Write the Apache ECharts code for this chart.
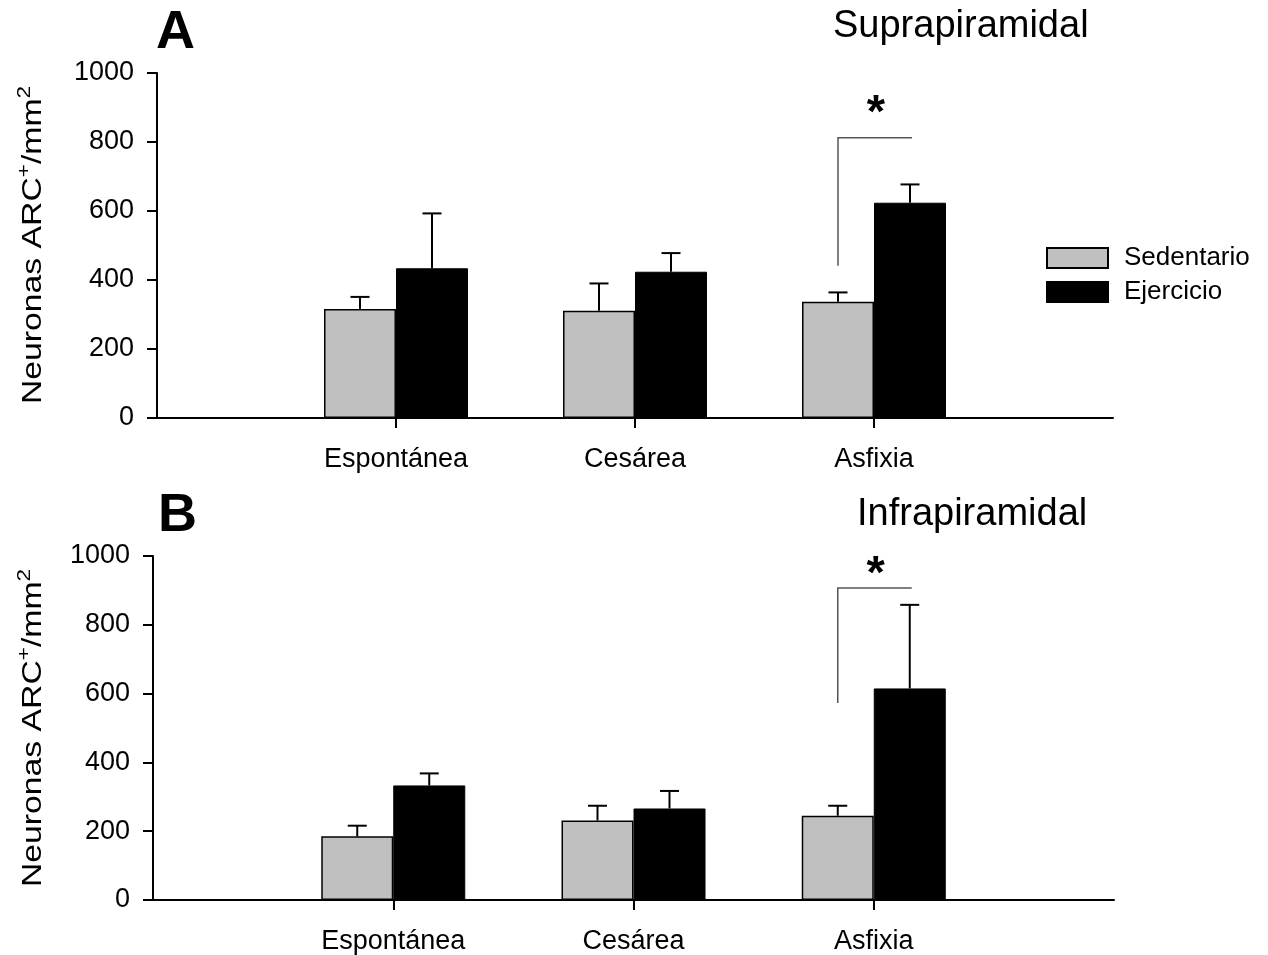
<!DOCTYPE html>
<html>
<head>
<meta charset="utf-8">
<script src="https://cdn.jsdelivr.net/npm/echarts@6/dist/echarts.min.js"></script>
<style>html,body{margin:0;padding:0;background:#fff;}#c{width:1268px;height:955px;}</style>
</head>
<body>
<div id="c"></div>
<script>
// ---- data ----
const categories = ['', 'Espontánea', 'Cesárea', 'Asfixia', ''];
const yTicks = [0, 200, 400, 600, 800, 1000];
const seriesNames = ['Sedentario', 'Ejercicio'];
// Panel A: Suprapiramidal
const supraSed = [null, 316, 311, 337, null];
const supraSedSem = [null, 35, 79, 27, null];
const supraEj = [null, 434, 424, 624, null];
const supraEjSem = [null, 159, 54, 53, null];
const supraBracket = [3, 441, 812, 881]; // category index, bottom, top, star
// Panel B: Infrapiramidal
const infraSed = [null, 185, 231, 245, null];
const infraSedSem = [null, 31, 43, 29, null];
const infraEj = [null, 333, 266, 615, null];
const infraEjSem = [null, 35, 51, 243, null];
const infraBracket = [3, 573, 907, 945];
const panelTitles = ['Suprapiramidal', 'Infrapiramidal'];
const panelLetters = ['A', 'B'];
const yName = '{a|Neuronas ARC}{s|+}{a|/mm}{s|2}';

const FONT = 'Liberation Sans, Arial, sans-serif';
const BAR_W = 72;

function errData(mean, sem) {
  const out = [];
  for (let i = 0; i < mean.length; i++) if (mean[i] != null) out.push([i, mean[i], sem[i]]);
  return out;
}
function errSeries(idx, mean, sem, offset) {
  return {
    type: 'custom', xAxisIndex: idx, yAxisIndex: idx, silent: true, z: 5,
    data: errData(mean, sem),
    renderItem: function (params, api) {
      const c = api.value(0);
      const x = api.coord([c, 0])[0] + offset;
      const yb = api.coord([c, api.value(1)])[1];
      const yt = api.coord([c, api.value(1) + api.value(2)])[1];
      const st = { stroke: '#000', lineWidth: 2 };
      return { type: 'group', children: [
        { type: 'line', shape: { x1: x, y1: yb, x2: x, y2: yt }, style: st },
        { type: 'line', shape: { x1: x - 9.5, y1: yt, x2: x + 9.5, y2: yt }, style: st }
      ]};
    }
  };
}
function bracketSeries(idx, b) {
  return {
    type: 'custom', xAxisIndex: idx, yAxisIndex: idx, silent: true, z: 6,
    data: [b],
    renderItem: function (params, api) {
      const c = api.value(0);
      const xc = api.coord([c, 0])[0];
      const x1 = xc - BAR_W / 2, x2 = xc + BAR_W / 2 + 2;
      const yb = api.coord([c, api.value(1)])[1];
      const yt = api.coord([c, api.value(2)])[1];
      const ys = api.coord([c, api.value(3)])[1];
      return { type: 'group', children: [
        { type: 'polyline', shape: { points: [[x1, yb], [x1, yt], [x2, yt]] }, style: { stroke: '#555', lineWidth: 1.5, fill: null } },
        { type: 'text', style: { x: (x1 + x2) / 2 + 1, y: ys, text: '*', font: 'bold 47px ' + FONT, fill: '#000', align: 'center', verticalAlign: 'middle' } }
      ]};
    }
  };
}
function xAxisCfg(idx) {
  return {
    gridIndex: idx, type: 'category', data: categories, boundaryGap: false,
    axisLine: { lineStyle: { color: '#000', width: 2 } },
    axisTick: { show: true, length: 10, interval: function (i, v) { return v !== ''; }, lineStyle: { color: '#000', width: 2 } },
    axisLabel: { interval: 0, color: '#000', fontSize: 27, fontFamily: FONT, margin: 28 },
    splitLine: { show: false }
  };
}
function yAxisCfg(idx) {
  return {
    gridIndex: idx, type: 'value', min: yTicks[0], max: yTicks[yTicks.length - 1], interval: yTicks[1] - yTicks[0],
    axisLine: { show: true, lineStyle: { color: '#000', width: 2 } },
    axisTick: { show: true, length: 10, lineStyle: { color: '#000', width: 2 } },
    axisLabel: { color: '#000', fontSize: 27, fontFamily: FONT, margin: 23, formatter: function (v) { return String(v); } },
    splitLine: { show: false }
  };
}
function yNameGraphic(cy) {
  return {
    type: 'text', x: 34, y: cy, rotation: Math.PI / 2, scaleX: 1.25, silent: true,
    style: {
      text: yName, align: 'center', verticalAlign: 'middle', fill: '#000',
      font: '27px ' + FONT,
      rich: { a: { fontSize: 27, fontFamily: FONT, fill: '#000', lineHeight: 36 },
              s: { fontSize: 18, fontFamily: FONT, fill: '#000', verticalAlign: 'top', lineHeight: 18 } }
    }
  };
}
function barSeries(idx, name, data, color, border) {
  return {
    type: 'bar', name: name, xAxisIndex: idx, yAxisIndex: idx, data: data,
    barWidth: BAR_W, barGap: '0%',
    itemStyle: { color: color, borderColor: '#000', borderWidth: border },
    emphasis: { disabled: true }
  };
}

const chart = echarts.init(document.getElementById('c'), null, { renderer: 'canvas' });
chart.setOption({
  animation: false,
  backgroundColor: '#fff',
  textStyle: { fontFamily: FONT },
  grid: [
    { left: 157, top: 73, width: 956, height: 345 },
    { left: 153, top: 556, width: 961, height: 345 }
  ],
  xAxis: [xAxisCfg(0), xAxisCfg(1)],
  yAxis: [yAxisCfg(0), yAxisCfg(1)],
  legend: {
    data: seriesNames, orient: 'vertical', left: 1046, top: 245, padding: 0,
    itemWidth: 61, itemHeight: 20, itemGap: 8, icon: 'rect', selectedMode: false,
    textStyle: { fontSize: 26, fontFamily: FONT, color: '#000', padding: [0, 0, 0, 11] }
  },
  graphic: [
    { type: 'text', x: 156, y: 33, style: { text: panelLetters[0], font: 'bold 54px ' + FONT, fill: '#000', verticalAlign: 'middle' } },
    { type: 'text', x: 833, y: 27, style: { text: panelTitles[0], font: '38px ' + FONT, fill: '#000', verticalAlign: 'middle' } },
    { type: 'text', x: 158, y: 516, style: { text: panelLetters[1], font: 'bold 54px ' + FONT, fill: '#000', verticalAlign: 'middle' } },
    { type: 'text', x: 857, y: 515, style: { text: panelTitles[1], font: '38px ' + FONT, fill: '#000', verticalAlign: 'middle' } },
    yNameGraphic(245),
    yNameGraphic(728)
  ],
  series: [
    barSeries(0, seriesNames[0], supraSed, '#c0c0c0', 1.5),
    barSeries(0, seriesNames[1], supraEj, '#000', 1),
    errSeries(0, supraSed, supraSedSem, -BAR_W / 2),
    errSeries(0, supraEj, supraEjSem, BAR_W / 2),
    bracketSeries(0, supraBracket),
    barSeries(1, seriesNames[0], infraSed, '#c0c0c0', 1.5),
    barSeries(1, seriesNames[1], infraEj, '#000', 1),
    errSeries(1, infraSed, infraSedSem, -BAR_W / 2),
    errSeries(1, infraEj, infraEjSem, BAR_W / 2),
    bracketSeries(1, infraBracket)
  ]
});
</script>
</body>
</html>
